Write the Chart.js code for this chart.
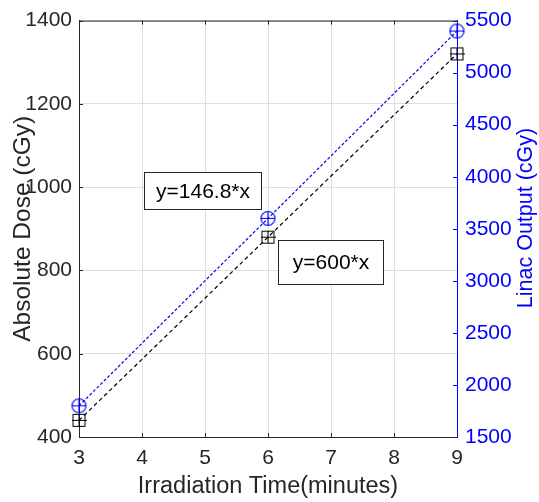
<!DOCTYPE html>
<html>
<head>
<meta charset="utf-8">
<script src="https://cdn.jsdelivr.net/npm/chart.js@4.4.1/dist/chart.umd.min.js"></script>
<style>
  html, body { margin: 0; padding: 0; background: #fff; }
  #wrap { width: 539px; height: 502px; }
</style>
</head>
<body>
<div id="wrap"><canvas id="dose"></canvas></div>
<script>
// irradiation time (minutes)
const times = [3, 6, 9];
// absolute dose, left axis (cGy)
const absoluteDose = [440, 880, 1320];
// linac output, right axis (cGy)
const linacOutput = [1800, 3600, 5400];

const doseTicks = [400, 600, 800, 1000, 1200, 1400];
const outputTicks = [1500, 2000, 2500, 3000, 3500, 4000, 4500, 5000, 5500];

// fit labels drawn in boxes (data coords of box top-left)
const fitLabels = [
  { text: 'y=146.8*x', x: 4.03, y: 1036, w: 117, h: 37 },
  { text: 'y=600*x', x: 6.16, y: 874, w: 105, h: 44 }
];

const axisCol = '#262626';
const gridCol = '#dedede';
const blue = '#0000ff';
const fontFam = 'Arial, "Liberation Sans", Helvetica, sans-serif';

function squareMarker() {
  const c = document.createElement('canvas');
  c.width = 15; c.height = 15;
  const g = c.getContext('2d');
  g.strokeStyle = '#000';
  g.lineWidth = 1;
  g.strokeRect(1.5, 1.5, 12, 12);
  g.beginPath();
  g.moveTo(0, 7.5); g.lineTo(15, 7.5);
  g.moveTo(7.5, 1.5); g.lineTo(7.5, 13.5);
  g.stroke();
  return c;
}

function circleMarker() {
  const c = document.createElement('canvas');
  c.width = 17; c.height = 17;
  const g = c.getContext('2d');
  g.strokeStyle = blue;
  g.lineWidth = 1.2;
  g.beginPath();
  g.arc(8.5, 8.5, 7, 0, Math.PI * 2);
  g.moveTo(1.5, 8.5); g.lineTo(15.5, 8.5);
  g.moveTo(8.5, 1.5); g.lineTo(8.5, 15.5);
  g.stroke();
  return c;
}

function pts(ys) {
  return times.map((t, i) => ({ x: t, y: ys[i] }));
}

const plain = v => String(v);

const matlabFrame = {
  id: 'matlabFrame',
  afterDatasetsDraw(chart) {
    const { ctx, chartArea: a, scales } = chart;
    const tl = 4;
    ctx.save();
    ctx.lineWidth = 1;
    // top border
    ctx.strokeStyle = axisCol;
    ctx.beginPath();
    ctx.moveTo(a.left, a.top + 0.5);
    ctx.lineTo(a.right, a.top + 0.5);
    ctx.stroke();
    // x ticks, inward top and bottom
    ctx.beginPath();
    scales.x.ticks.forEach(t => {
      const px = Math.round(scales.x.getPixelForValue(t.value)) + 0.5;
      ctx.moveTo(px, a.bottom); ctx.lineTo(px, a.bottom - tl);
      ctx.moveTo(px, a.top); ctx.lineTo(px, a.top + tl);
    });
    scales.y.ticks.forEach(t => {
      const py = Math.round(scales.y.getPixelForValue(t.value)) + 0.5;
      ctx.moveTo(a.left, py); ctx.lineTo(a.left + tl, py);
    });
    ctx.stroke();
    // right axis ticks, inward
    ctx.strokeStyle = blue;
    ctx.beginPath();
    scales.y2.ticks.forEach(t => {
      const py = Math.round(scales.y2.getPixelForValue(t.value)) + 0.5;
      ctx.moveTo(a.right, py); ctx.lineTo(a.right - tl, py);
    });
    ctx.stroke();

    // right axis title, reads bottom to top like matlab
    ctx.fillStyle = blue;
    ctx.font = '21.5px ' + fontFam;
    ctx.textAlign = 'center';
    ctx.textBaseline = 'middle';
    ctx.translate(526, 218);
    ctx.rotate(-Math.PI / 2);
    ctx.fillText('Linac Output (cGy)', 0, 0);
    ctx.setTransform(1, 0, 0, 1, 0, 0);

    // fit label boxes
    ctx.font = '21px ' + fontFam;
    fitLabels.forEach(b => {
      const bx = Math.round(scales.x.getPixelForValue(b.x)) + 0.5;
      const by = Math.round(scales.y.getPixelForValue(b.y)) + 0.5;
      ctx.fillStyle = '#fff';
      ctx.fillRect(bx, by, b.w, b.h);
      ctx.strokeStyle = axisCol;
      ctx.strokeRect(bx, by, b.w, b.h);
      ctx.fillStyle = '#000';
      ctx.fillText(b.text, bx + b.w / 2, by + b.h / 2 + 1);
    });
    ctx.restore();
  }
};

new Chart(document.getElementById('dose'), {
  type: 'scatter',
  data: {
    datasets: [
      {
        label: 'Absolute Dose',
        data: pts(absoluteDose),
        yAxisID: 'y',
        showLine: true,
        borderColor: '#000',
        borderWidth: 1.2,
        borderDash: [4, 3],
        pointStyle: squareMarker(),
        clip: false
      },
      {
        label: 'Linac Output',
        data: pts(linacOutput),
        yAxisID: 'y2',
        showLine: true,
        borderColor: blue,
        borderWidth: 1.2,
        borderDash: [3, 2],
        pointStyle: circleMarker(),
        clip: false
      }
    ]
  },
  options: {
    responsive: true,
    maintainAspectRatio: false,
    animation: false,
    layout: { padding: { top: 17 } },
    plugins: {
      legend: { display: false },
      tooltip: { enabled: false }
    },
    scales: {
      x: {
        type: 'linear',
        min: 3, max: 9,
        afterFit(s) { s.height = 65; },
        ticks: { stepSize: 1, padding: 9, color: axisCol, callback: plain, font: { size: 21, family: fontFam } },
        grid: { color: gridCol, drawTicks: false },
        border: { color: axisCol, width: 1 },
        title: {
          display: true,
          text: 'Irradiation Time(minutes)',
          color: axisCol,
          font: { size: 23.5, family: fontFam },
          padding: { top: 1, bottom: 1 }
        }
      },
      y: {
        position: 'left',
        min: 400, max: 1400,
        afterFit(s) { s.width = 79; },
        afterBuildTicks(s) { s.ticks = doseTicks.map(v => ({ value: v })); },
        ticks: { padding: 7, color: axisCol, callback: plain, font: { size: 21, family: fontFam } },
        grid: { color: gridCol, drawTicks: false },
        border: { color: axisCol, width: 1 },
        title: {
          display: true,
          text: 'Absolute Dose (cGy)',
          color: axisCol,
          font: { size: 24.5, family: fontFam },
          padding: { top: 9, bottom: 0 }
        }
      },
      y2: {
        position: 'right',
        min: 1500, max: 5500,
        afterFit(s) { s.width = 82; },
        afterBuildTicks(s) { s.ticks = outputTicks.map(v => ({ value: v })); },
        ticks: { padding: 8, color: blue, callback: plain, font: { size: 21, family: fontFam } },
        grid: { drawOnChartArea: false, drawTicks: false },
        border: { color: blue, width: 1 }
      }
    }
  },
  plugins: [matlabFrame]
});
</script>
</body>
</html>
